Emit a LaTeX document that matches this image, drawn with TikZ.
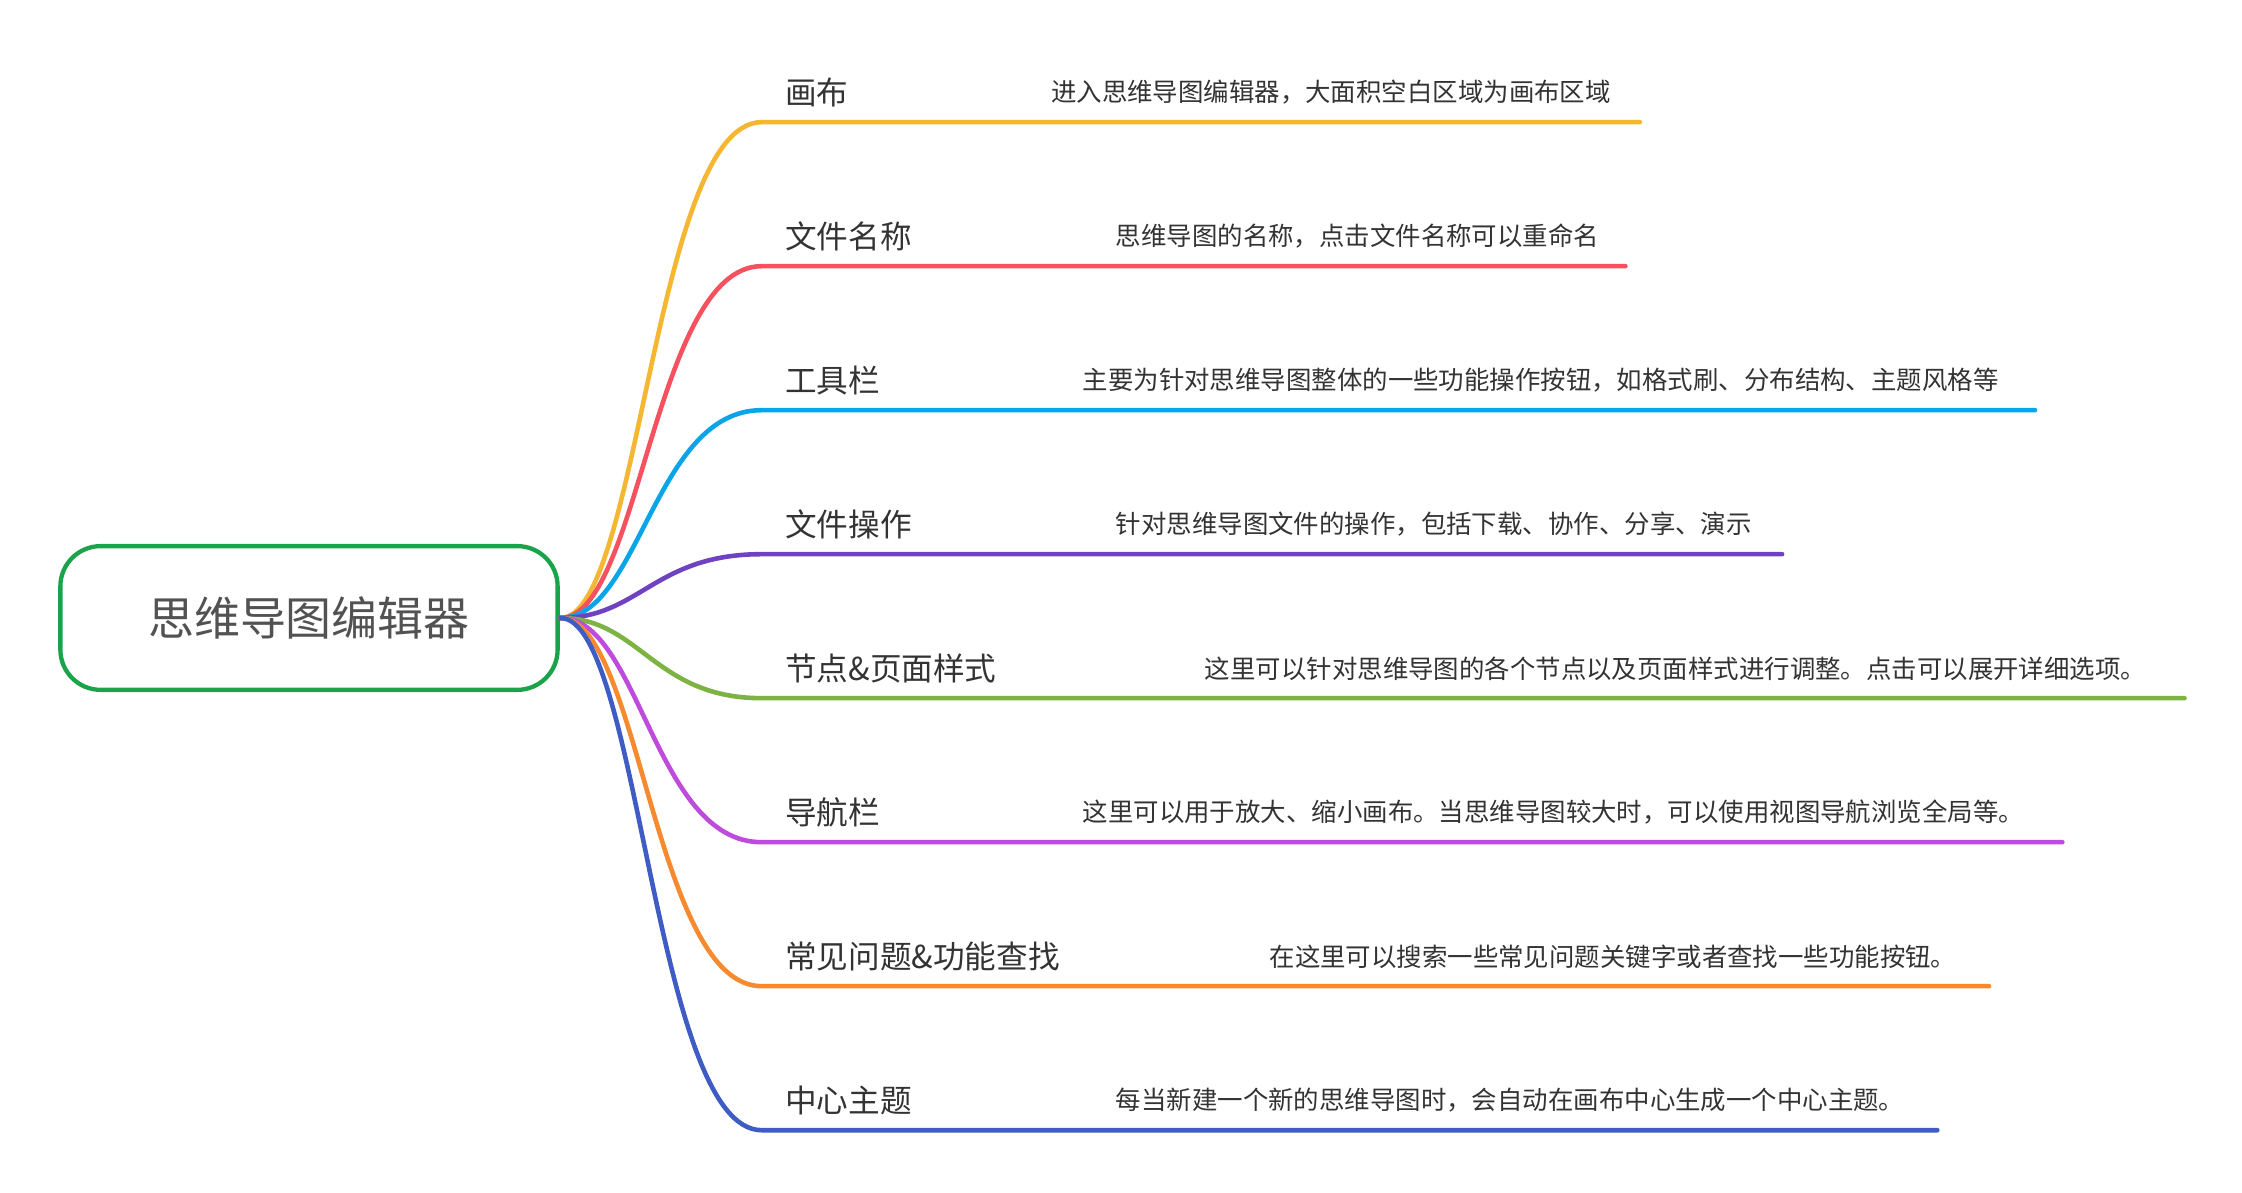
\documentclass[tikz,border=0pt]{standalone}
\usepackage{fontspec}
\setmainfont{Noto Sans CJK SC}
\usetikzlibrary{positioning}
\definecolor{cA}{HTML}{F5B731}
\definecolor{cB}{HTML}{F5515F}
\definecolor{cC}{HTML}{0AA5E9}
\definecolor{cD}{HTML}{6F42C1}
\definecolor{cE}{HTML}{7CB342}
\definecolor{cF}{HTML}{BE4BDB}
\definecolor{cG}{HTML}{F7892E}
\definecolor{cH}{HTML}{3F5BC4}
\definecolor{rootgreen}{HTML}{1AA34A}
\definecolor{txt}{HTML}{333333}
\tikzset{
  rootbox/.style={draw=rootgreen,line width=1.5pt,rounded corners=14pt,minimum width=173pt,minimum height=50pt,font=\fontsize{16}{18}\selectfont,text=txt!85},
  title/.style={anchor=south west,inner sep=1pt,font=\fontsize{11}{13}\selectfont,text=txt},
  desc/.style={anchor=south west,inner sep=1pt,font=\fontsize{8.85}{10}\selectfont,text=txt},
  branch/.style={line width=1.6pt,line cap=round}
}
\begin{document}
\begin{tikzpicture}[x=0.5pt,y=-0.5pt]
  \useasboundingbox (0,0) rectangle (1560,830);
  \node [rootbox] (root) at (215,430) {思维导图编辑器};
  \coordinate (hub) at (390,430);
  \foreach \i/\col/\name/\dx/\dend/\txt in {
      0/cA/画布/729/1141/进入思维导图编辑器，大面积空白区域为画布区域,
      1/cB/文件名称/774/1131/思维导图的名称，点击文件名称可以重命名,
      2/cC/工具栏/751/1416/主要为针对思维导图整体的一些功能操作按钮，如格式刷、分布结构、主题风格等,
      3/cD/文件操作/774/1240/针对思维导图文件的操作，包括下载、协作、分享、演示,
      4/cE/节点\&页面样式/836/1520/这里可以针对思维导图的各个节点以及页面样式进行调整。点击可以展开详细选项。,
      5/cF/导航栏/751/1435/这里可以用于放大、缩小画布。当思维导图较大时，可以使用视图导航浏览全局等。,
      6/cG/常见问题\&功能查找/881/1384/在这里可以搜索一些常见问题关键字或者查找一些功能按钮。,
      7/cH/中心主题/774/1348/每当新建一个新的思维导图时，会自动在画布中心生成一个中心主题。}{
    \pgfmathsetmacro{\yy}{85+100.2*\i}
    \coordinate (s\i) at (530,\yy);
    \coordinate (e\i) at (\dend,\yy);
    \node [title] (t\i) at (544,\yy-8) {\name};
    \node [desc] (d\i) at (\dx,\yy-10) {\txt};
    \draw [branch,\col] (hub) .. controls (445,430) and (455,\yy) .. (s\i) -- (e\i);
  }
\end{tikzpicture}
\end{document}
